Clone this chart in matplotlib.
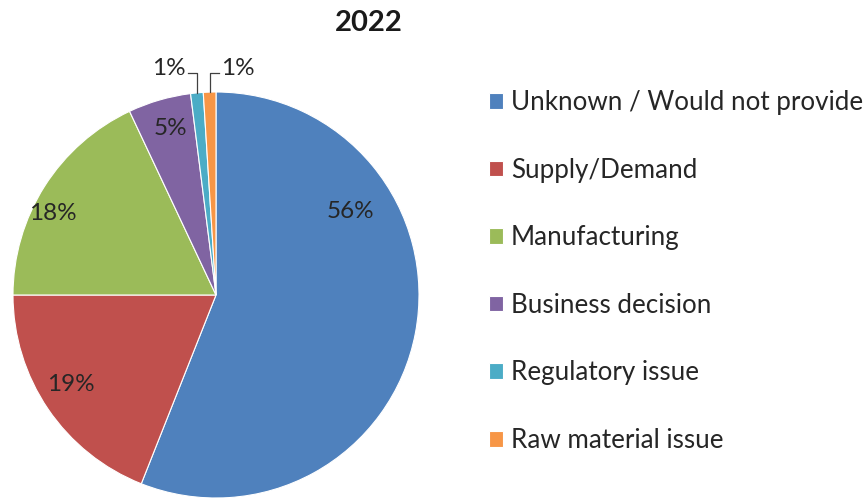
import numpy as np
import matplotlib.pyplot as plt

plt.rcParams['font.family'] = ['Lato', 'DejaVu Sans']

# share of reasons, 2022
categories = ['Unknown / Would not provide', 'Supply/Demand', 'Manufacturing',
              'Business decision', 'Regulatory issue', 'Raw material issue']
shares = [56, 19, 18, 5, 1, 1]
colors = ['#4F81BD', '#C0504D', '#9BBB59', '#8064A2', '#4BACC6', '#F79646']
title = '2022'

W, H = 866, 498
fig = plt.figure(figsize=(W / 100, H / 100), dpi=100)
ax = fig.add_axes([0, 0, 1, 1])

# work in pixel units, y measured upward
cx, cy, r = 216, H - 295, 203
wedges, _ = ax.pie(shares, colors=colors, startangle=90, counterclock=False,
                   center=(cx, cy), radius=r, frame=True,
                   wedgeprops=dict(edgecolor='white', linewidth=0.8))
ax.set_xlim(0, W)
ax.set_ylim(0, H)
ax.set_aspect('equal')
ax.axis('off')

# label positions: (angle offset from mid, radius factor)
label_pos = {0: (42.6, 0.78), 1: (-2.6, 0.84), 2: (5.8, 0.90), 3: (-0.8, 0.85)}
for i, w in enumerate(wedges[:4]):
    mid = (w.theta1 + w.theta2) / 2
    da, f = label_pos[i]
    a = np.deg2rad(mid + da)
    ax.text(cx + f * r * np.cos(a), cy + f * r * np.sin(a), f'{shares[i]}%',
            ha='center', va='center', fontsize=17.5, color='#262626')

# small slices get leader lines to labels above the pie
ly = H - 73
for w, v, side in [(wedges[4], shares[4], -1), (wedges[5], shares[5], 1)]:
    mid = np.deg2rad((w.theta1 + w.theta2) / 2)
    ex, ey = cx + r * np.cos(mid), cy + r * np.sin(mid)
    hx = ex + side * 9
    ax.plot([ex, ex, hx], [ey, ly, ly], color='#404040', lw=0.9, clip_on=False)
    ax.text(hx + side * 2, ly + 5, f'{v}%', ha='right' if side < 0 else 'left',
            va='center', fontsize=17.5, color='#262626')

fig.text(369 / W, 1 - 23 / H, title, ha='center', va='center',
         fontsize=21, fontweight='bold', color='#1a1a1a')

leg = fig.legend(wedges, categories, loc='upper left',
                 bbox_to_anchor=(489 / W, 1 - 90 / H), frameon=False,
                 fontsize=18.7, labelspacing=1.64, handlelength=0.54,
                 handleheight=0.54, handletextpad=0.3,
                 borderpad=0, borderaxespad=0)
for t in leg.get_texts():
    t.set_color('#262626')

fig.savefig('out.png', dpi=100)
